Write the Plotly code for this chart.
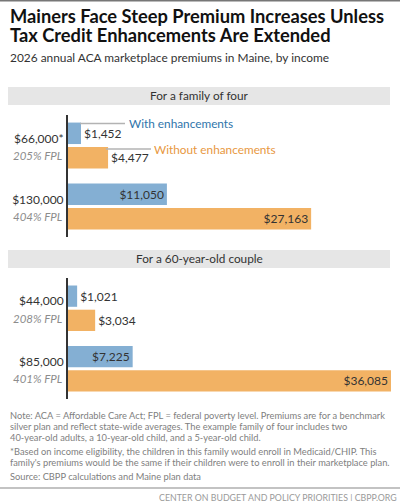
import plotly.graph_objects as go

W, H = 400, 501
FONT = "Lato"
TXT = "#333333"
BLUE = "#84afd3"
ORANGE = "#f2b264"

family_income = ["$66,000*", "$130,000"]
family_fpl = ["205% FPL", "404% FPL"]
family_with = [1452, 11050]
family_without = [4477, 27163]
couple_income = ["$44,000", "$85,000"]
couple_fpl = ["208% FPL", "401% FPL"]
couple_with = [1021, 7225]
couple_without = [3034, 36085]

title_lines = ["Mainers Face Steep Premium Increases Unless", "Tax Credit Enhancements Are Extended"]
subtitle = "2026 annual ACA marketplace premiums in Maine, by income"
panel_titles = ["For a family of four", "For a 60-year-old couple"]
note_lines = [
    (415, "Note: ACA = Affordable Care Act; FPL = federal poverty level. Premiums are for a benchmark"),
    (426, "silver plan and reflect state-wide averages. The example family of four includes two"),
    (437, "40-year-old adults, a 10-year-old child, and a 5-year-old child."),
    (451, "*Based on income eligibility, the children in this family would enroll in Medicaid/CHIP. This"),
    (462, "family's premiums would be the same if their children were to enroll in their marketplace plan."),
    (476, "Source: CBPP calculations and Maine plan data"),
]
footer = "CENTER ON BUDGET AND POLICY PRIORITIES | CBPP.ORG"

def px(x): return x / W
def py(y): return 1 - y / H

fig = go.Figure()

def money(v): return f"${v:,}"

def add_panel(xa, ya, with_v, without_v, income):
    for vals, color in ((with_v, BLUE), (without_v, ORANGE)):
        fig.add_trace(go.Bar(
            y=income, x=vals, orientation="h", xaxis=xa, yaxis=ya,
            marker=dict(color=color, line=dict(width=0)),
            text=[money(v) for v in vals],
            textposition=["inside" if v > 5000 else "outside" for v in vals],
            insidetextanchor="end", textangle=0, constraintext="none",
            textfont=dict(family=FONT, size=12, color=TXT),
            cliponaxis=False, showlegend=False, hoverinfo="skip",
        ))

add_panel("x", "y", family_with, family_without, family_income)
add_panel("x2", "y2", couple_with, couple_without, couple_income)

X_DOM = [px(68), px(391)]
axis_x = dict(domain=X_DOM, range=[0, 36085], visible=False, fixedrange=True)
axis_y = dict(autorange="reversed", showline=True, linecolor="#333333", linewidth=2,
              ticks="", ticklen=0, showgrid=False, zeroline=False, ticklabelshift=7,
              tickfont=dict(family=FONT, size=12, color=TXT), automargin=False)

shapes = [
    dict(type="rect", xref="paper", yref="paper", x0=0, x1=1, y0=py(0), y1=py(1.5),
         fillcolor="#777777", line_width=0),
    dict(type="rect", xref="paper", yref="paper", x0=px(8), x1=px(390), y0=py(87), y1=py(105),
         fillcolor="#e6e6e6", line_width=0),
    dict(type="rect", xref="paper", yref="paper", x0=px(8), x1=px(390), y0=py(250), y1=py(268),
         fillcolor="#e6e6e6", line_width=0),
    dict(type="rect", xref="paper", yref="paper", x0=0, x1=1, y0=py(487.5), y1=py(488.5),
         fillcolor="#888888", line_width=0),
    dict(type="line", xref="paper", yref="paper", x0=px(80), x1=px(125), y0=py(123.5), y1=py(123.5),
         line=dict(color="#b3b3b3", width=1.5)),
    dict(type="line", xref="paper", yref="paper", x0=px(106), x1=px(151), y0=py(149), y1=py(149),
         line=dict(color="#b3b3b3", width=1.5)),
]

def label(x, y, text, size, color=TXT, anchor="left", family=FONT):
    return dict(xref="paper", yref="paper", x=px(x), y=py(y), text=text, showarrow=False,
                xanchor=anchor, yanchor="middle", align=anchor,
                font=dict(family=family, size=size, color=color))

ann = [
    label(7.5, 16.5, f"<b>{title_lines[0]}</b>", 18.3, "#111111"),
    label(7.5, 35, f"<b>{title_lines[1]}</b>", 18.3, "#111111"),
    label(7.5, 57, subtitle, 11.9),
    label(199, 95.5, panel_titles[0], 11.8, anchor="center"),
    label(199, 258.5, panel_titles[1], 11.8, anchor="center"),
    label(127, 123.5, "With enhancements", 11.8, "#2f75ab"),
    label(152, 149, "Without enhancements", 11.8, "#e8983f"),
]
for y, t in note_lines:
    ann.append(label(7.5, y, t, 9.3, "#808080"))
ann.append(label(399, 497, footer, 8.8, "#9a9a9a", anchor="right"))
for ya, cats, fpls in (("y", family_income, family_fpl), ("y2", couple_income, couple_fpl)):
    for c, f in zip(cats, fpls):
        ann.append(dict(xref="x" if ya == "y" else "x2", yref=ya, x=0, y=c, text=f"<i>{f}</i>",
                        showarrow=False, xanchor="right", yanchor="middle", xshift=-4, yshift=-10,
                        font=dict(family=FONT, size=11.5, color="#8c8c8c")))

fig.update_layout(
    width=W, height=H, margin=dict(l=0, r=0, t=0, b=0, autoexpand=False),
    paper_bgcolor="white", plot_bgcolor="white",
    barmode="group", bargap=0.2, bargroupgap=0.12,
    xaxis=dict(**axis_x, anchor="y"),
    xaxis2=dict(**axis_x, anchor="y2"),
    yaxis=dict(**axis_y, domain=[py(237), py(115)], anchor="x"),
    yaxis2=dict(**axis_y, domain=[py(399), py(278)], anchor="x2"),
    shapes=shapes, annotations=ann,
    font=dict(family=FONT),
)
fig.write_html("out.html", config={"displayModeBar": False},
               post_script="document.body.style.margin='0';document.documentElement.style.overflow='hidden';")
